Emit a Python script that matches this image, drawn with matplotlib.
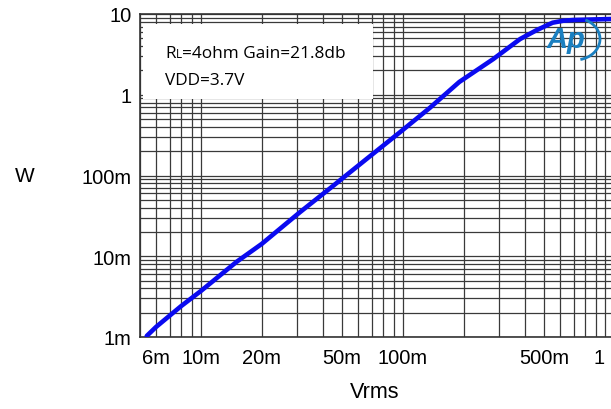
import numpy as np
import matplotlib
matplotlib.use("Agg")
import matplotlib.pyplot as plt
from matplotlib.patches import Rectangle, Arc
from matplotlib.ticker import FixedLocator, NullFormatter
from matplotlib.transforms import ScaledTranslation

# output power vs input level
vrms = [0.0054, 0.006, 0.008, 0.010, 0.015, 0.020, 0.031, 0.045, 0.066,
        0.097, 0.136, 0.190, 0.280, 0.380, 0.460, 0.550, 0.620, 0.700, 1.07]
watts = [0.00103, 0.00133, 0.00242, 0.00371, 0.0085, 0.0142, 0.0353, 0.074,
         0.160, 0.346, 0.690, 1.44, 2.77, 4.9, 6.34, 7.80, 8.25, 8.43, 8.67]

x_ticks = [0.006, 0.01, 0.02, 0.05, 0.1, 0.5, 1.0]
x_labels = ["6m", "10m", "20m", "50m", "100m", "500m", "1"]
y_ticks = [0.001, 0.01, 0.1, 1, 10]
y_labels = ["1m", "10m", "100m", "1", "10"]

W, H = 611, 410
fig = plt.figure(figsize=(W / 100, H / 100), dpi=100)
plt.rcParams['font.family'] = ['Liberation Sans', 'DejaVu Sans']

def px(x0, y0, x1, y1):
    # pixel box (top-left origin) -> figure fraction rect
    return [x0 / W, 1 - y1 / H, (x1 - x0) / W, (y1 - y0) / H]

ax = fig.add_axes(px(140, 15, 611, 338))
ax.set_xscale('log')
ax.set_yscale('log')
ax.set_xlim(0.005, 1.07)
ax.set_ylim(0.001, 10)

# full decade grid, majors and minors alike
minors_x = [m * d for d in [0.001, 0.01, 0.1] for m in range(2, 10)] + [1.0]
minors_y = [m * d for d in [0.001, 0.01, 0.1, 1] for m in range(1, 11)]
ax.xaxis.set_minor_locator(FixedLocator(minors_x))
ax.yaxis.set_minor_locator(FixedLocator(minors_y))
ax.xaxis.set_minor_formatter(NullFormatter())
ax.yaxis.set_minor_formatter(NullFormatter())
ax.grid(True, which='both', color='#3a3a3a', linewidth=0.9)
ax.set_axisbelow(True)

ax.set_xticks(x_ticks)
ax.set_xticklabels(x_labels)
ax.set_yticks(y_ticks)
ax.set_yticklabels(y_labels)
ax.tick_params(which='both', length=0, labelsize=14.5, colors='black')
ax.tick_params(axis='x', pad=8)
ax.tick_params(axis='y', pad=6)
# last x label sits a bit left of its line, as in the original
lbl = ax.get_xticklabels()[-1]
lbl.set_transform(lbl.get_transform() + ScaledTranslation(-6 / 100, 0, fig.dpi_scale_trans))

ax.spines['right'].set_visible(False)
for s in ['left', 'bottom', 'top']:
    ax.spines[s].set_color('#333333')
    ax.spines[s].set_linewidth(1.2)

ax.plot(vrms, watts, color='#0a0af0', linewidth=3.3, solid_capstyle='round',
        solid_joinstyle='round', zorder=5)

# white info box on top of the grid
ax.add_patch(Rectangle((143 / W, 1 - 100 / H), 230 / W, 75 / H, transform=fig.transFigure,
                       facecolor='white', edgecolor='none', zorder=3))

fig.text(25 / W, 1 - 177 / H, "W", fontsize=15, ha='center', va='center')
fig.text(375 / W, 1 - 393 / H, "Vrms", fontsize=15.5, ha='center', va='center')

# text in box: R with small L subscript
fig.canvas.draw()
r = fig.canvas.get_renderer()
tf = ['Open Sans', 'DejaVu Sans']
x0 = 165
t1 = fig.text(x0 / W, 1 - 58 / H, "R", fontsize=12.4, family=tf, va='baseline', zorder=6)
w1 = t1.get_window_extent(r).width
t2 = fig.text((x0 + w1) / W, 1 - 58 / H, "L", fontsize=8.5, family=tf, va='baseline', zorder=6)
w2 = t2.get_window_extent(r).width
fig.text((x0 + w1 + w2) / W, 1 - 58 / H, "=4ohm Gain=21.8db", fontsize=12.4, family=tf,
         va='baseline', zorder=6)
fig.text(x0 / W, 1 - 85 / H, "VDD=3.7V", fontsize=12.4, family=tf, va='baseline', zorder=6)

# Ap logo
logo = '#1a7fc0'
fig.text(566 / W, 1 - 40 / H, "Ap", fontsize=21, fontstyle='italic', fontweight='bold',
         color=logo, ha='center', va='center', zorder=6)
fig.add_artist(Arc((575 / W, 1 - 40 / H), 50 / W, 42 / H, theta1=-80, theta2=70,
                   transform=fig.transFigure, color=logo, linewidth=2, zorder=6))

fig.savefig("out.png", dpi=100)
